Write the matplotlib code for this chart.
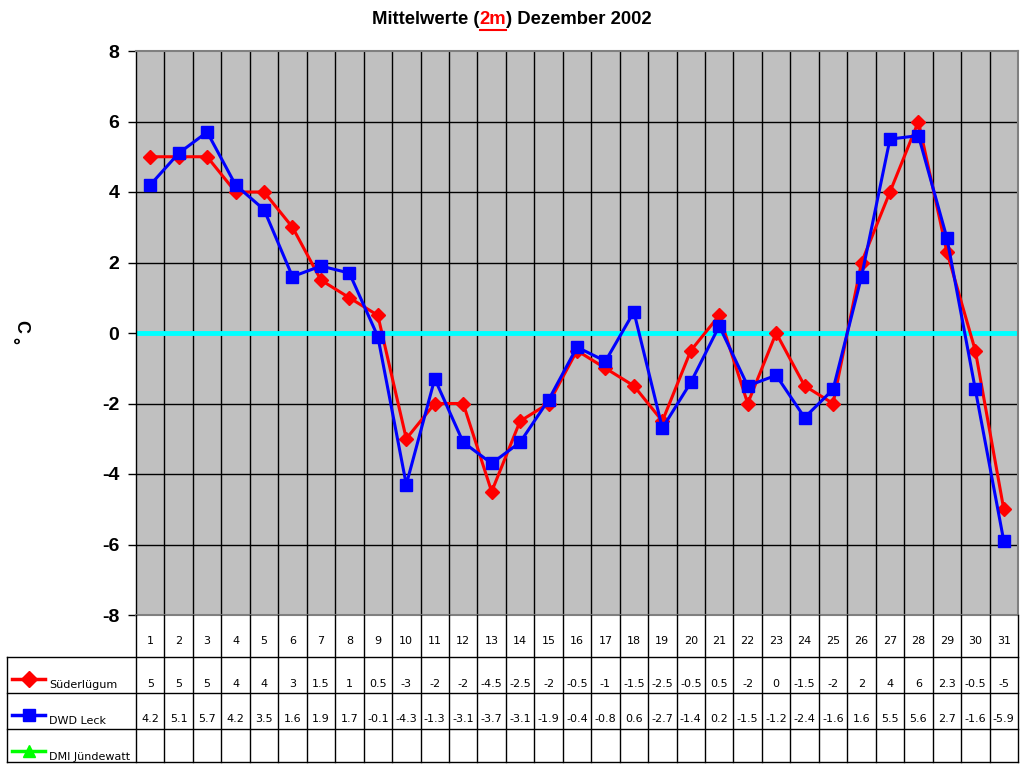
import matplotlib
matplotlib.use("Agg")
import matplotlib.pyplot as plt
from matplotlib.lines import Line2D

days = list(range(1, 32))
sued = [5, 5, 5, 4, 4, 3, 1.5, 1, 0.5, -3, -2, -2, -4.5, -2.5, -2, -0.5, -1, -1.5,
        -2.5, -0.5, 0.5, -2, 0, -1.5, -2, 2, 4, 6, 2.3, -0.5, -5]
dwd = [4.2, 5.1, 5.7, 4.2, 3.5, 1.6, 1.9, 1.7, -0.1, -4.3, -1.3, -3.1, -3.7, -3.1,
       -1.9, -0.4, -0.8, 0.6, -2.7, -1.4, 0.2, -1.5, -1.2, -2.4, -1.6, 1.6, 5.5, 5.6,
       2.7, -1.6, -5.9]
series_names = ["Süderlügum", "DWD Leck", "DMI Jündewatt"]
series_colors = ["#ff0000", "#0000ff", "#00ff00"]
series_markers = ["D", "s", "^"]
yticks = [-8, -6, -4, -2, 0, 2, 4, 6, 8]

W, H = 1024, 768
fig = plt.figure(figsize=(W / 100, H / 100), dpi=100)

# pixel geometry
L, R, T, B = 136, 1018, 51, 615
ax = fig.add_axes([L / W, 1 - B / H, (R - L) / W, (B - T) / H])
ax.set_facecolor("#c0c0c0")
ax.set_xlim(0.5, 31.5)
ax.set_ylim(-8, 8)
for s in ax.spines.values():
    s.set_color("#808080")
    s.set_linewidth(1.5)
ax.spines["left"].set_color("black")
ax.spines["left"].set_linewidth(1)
for x in range(1, 31):
    ax.axvline(x + 0.5, color="black", lw=1, zorder=1)
for y in yticks:
    if y not in (-8, 0, 8):
        ax.axhline(y, color="black", lw=1, zorder=1)
ax.axhline(0, color="#00ffff", lw=3.5, zorder=2)
ax.set_xticks([])
ax.set_yticks(yticks)
ax.set_yticklabels([str(v) for v in yticks], fontsize=14, fontweight="bold",
                   family="Liberation Sans")
ax.tick_params(axis="y", length=6, width=1, pad=6)

ax.plot(days, sued, color=series_colors[0], lw=2.2, marker="D", ms=7.5,
        zorder=4, clip_on=False)
ax.plot(days, dwd, color=series_colors[1], lw=2.2, marker="s", ms=9,
        zorder=5, clip_on=False)

# overlay axes in pixel coordinates
ov = fig.add_axes([0, 0, 1, 1])
ov.set_xlim(0, W)
ov.set_ylim(H, 0)
ov.axis("off")
ov.patch.set_alpha(0)

# y-label (degree sign below a downward-opening C, as in the reference)
ov.text(21, 327, "C", rotation=-90, ha="center", va="center", fontsize=13,
        fontweight="bold", family="Liberation Sans")
ov.text(23, 340, "°", rotation=90, ha="center", va="center", fontsize=13,
        fontweight="bold", family="Liberation Sans")

# title with red underlined "2m"
fig.canvas.draw()
rend = fig.canvas.get_renderer()
parts = [("Mittelwerte (", "black"), ("2m", "red"), (") Dezember 2002", "black")]
texts = []
widths = []
for s, c in parts:
    t = ov.text(0, 20, s, color=c, fontsize=13.3, fontweight="bold",
                family="Liberation Sans", ha="left", va="center")
    bb = t.get_window_extent(rend)
    texts.append(t)
    widths.append(bb.width)
total = sum(widths)
x0 = 512 - total / 2
for t, w in zip(texts, widths):
    t.set_x(x0)
    if t.get_text() == "2m":
        ov.plot([x0, x0 + w], [29.5, 29.5], color="red", lw=1.5)
    x0 += w

# table
cw = (R - L) / 31
rows_y = [615, 657, 693, 729, 762]
tl = 7
lc = "black"
ov.plot([L, L], [rows_y[0], rows_y[-1]], color=lc, lw=1)
for i in range(1, 32):
    xe = L + i * cw
    ov.plot([xe, xe], [rows_y[0], rows_y[-1]], color=lc, lw=1)
for yy in rows_y[1:]:
    ov.plot([tl, R], [yy, yy], color=lc, lw=1)
ov.plot([tl, tl], [rows_y[1], rows_y[-1]], color=lc, lw=1)

tfont = dict(family="DejaVu Sans", fontsize=8, ha="center", va="center")
for i, d in enumerate(days):
    ov.text(L + (i + 0.5) * cw, 641, str(d), **tfont)
    ov.text(L + (i + 0.5) * cw, 684, f"{sued[i]:g}", **tfont)
    ov.text(L + (i + 0.5) * cw, 719, f"{dwd[i]:g}", **tfont)

for k, name in enumerate(series_names):
    ytop = rows_y[k + 1]
    ym = ytop + 22
    ov.add_line(Line2D([12, 45], [ym, ym], color=series_colors[k], lw=2.5))
    ms = {"D": 8, "s": 9, "^": 9}[series_markers[k]]
    ov.plot([29], [ym], marker=series_markers[k], color=series_colors[k], ms=ms)
    ov.text(49, ytop + 28, name, family="DejaVu Sans", fontsize=8, ha="left",
            va="center")

fig.savefig("out.png", dpi=100)
